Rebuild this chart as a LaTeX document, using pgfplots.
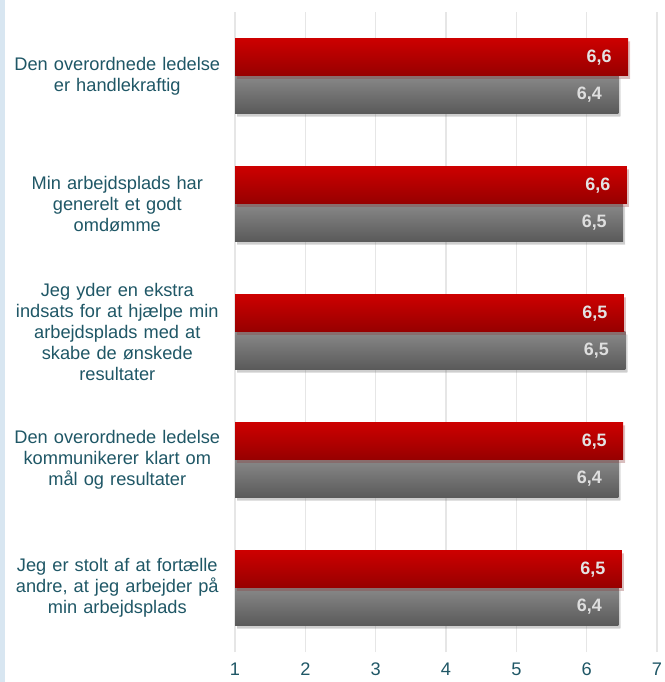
\documentclass[border=0pt]{standalone}
\usepackage{pgfplots}
\pgfplotsset{compat=1.18}
\usepackage{fontspec}
\setmainfont{Liberation Sans}
\usetikzlibrary{shadows}
\definecolor{txt}{HTML}{1F5766}
\definecolor{gridc}{HTML}{E6E6E6}
\definecolor{strip}{HTML}{D8E6F1}
\definecolor{redtop}{HTML}{CC0000}
\definecolor{redbot}{HTML}{960000}
\definecolor{graytop}{HTML}{888888}
\definecolor{graybot}{HTML}{5A5A5A}
\pgfplotsset{
  graybar/.style={draw=none, top color=graytop, bottom color=graybot, bar shift=-0.145,
    drop shadow={shadow xshift=2bp, shadow yshift=-3bp, opacity=0.18},
    every node near coord/.append style={text=black!13}},
  redbar/.style={draw=none, top color=redtop, bottom color=redbot, bar shift=0.145,
    drop shadow={shadow xshift=2bp, shadow yshift=-3bp, opacity=0.18},
    every node near coord/.append style={text=black!11}},
}
\begin{document}
\begin{tikzpicture}
\useasboundingbox (0,0) rectangle (665bp,682bp);
\fill[white] (0,0) rectangle (665bp,682bp);
\fill[strip] (0,0) rectangle (4.5bp,682bp);
\begin{axis}[
  at={(235bp,30bp)}, anchor=south west,
  scale only axis, width=422bp, height=640bp,
  xmin=1, xmax=7, ymin=0.5, ymax=5.5,
  xbar, bar width=0.29,
  xtick={1,...,7},
  ytick={1,...,5},
  yticklabels={{Jeg er stolt af at fortælle\\andre, at jeg arbejder på\\min arbejdsplads},
               {Den overordnede ledelse\\kommunikerer klart om\\mål og resultater},
               {Jeg yder en ekstra\\indsats for at hjælpe min\\arbejdsplads med at\\skabe de ønskede\\resultater},
               {Min arbejdsplads har\\generelt et godt\\omdømme},
               {Den overordnede ledelse\\er handlekraftig}},
  yticklabel style={align=center, text width=225bp, inner sep=0pt, font=\fontsize{18.3}{21}\selectfont, text=txt, xshift=-5bp},
  xticklabel style={font=\fontsize{18.3}{21}\selectfont, text=txt, yshift=-7bp},
  /pgf/number format/assume math mode=true,
  major tick length=0pt,
  axis line style={draw=none},
  xmajorgrids, grid style={gridc, line width=1.5bp},
  ymajorgrids=false,
  point meta=explicit symbolic,
  nodes near coords,
  every node near coord/.append style={anchor=east, xshift=-13bp, font=\fontsize{18}{21}\selectfont\bfseries},
  clip=false,
]
% gray series (bottom bar of each pair)
\addplot[graybar] coordinates {(6.45,5) [6,4]};
\addplot[graybar] coordinates {(6.52,4) [6,5]};
\addplot[graybar] coordinates {(6.55,3) [6,5]};
\addplot[graybar] coordinates {(6.45,2) [6,4]};
\addplot[graybar] coordinates {(6.45,1) [6,4]};
% red series (top bar of each pair)
\addplot[redbar] coordinates {(6.59,5) [6,6]};
\addplot[redbar] coordinates {(6.57,4) [6,6]};
\addplot[redbar] coordinates {(6.53,3) [6,5]};
\addplot[redbar] coordinates {(6.52,2) [6,5]};
\addplot[redbar] coordinates {(6.50,1) [6,5]};
\end{axis}
\end{tikzpicture}
\end{document}
